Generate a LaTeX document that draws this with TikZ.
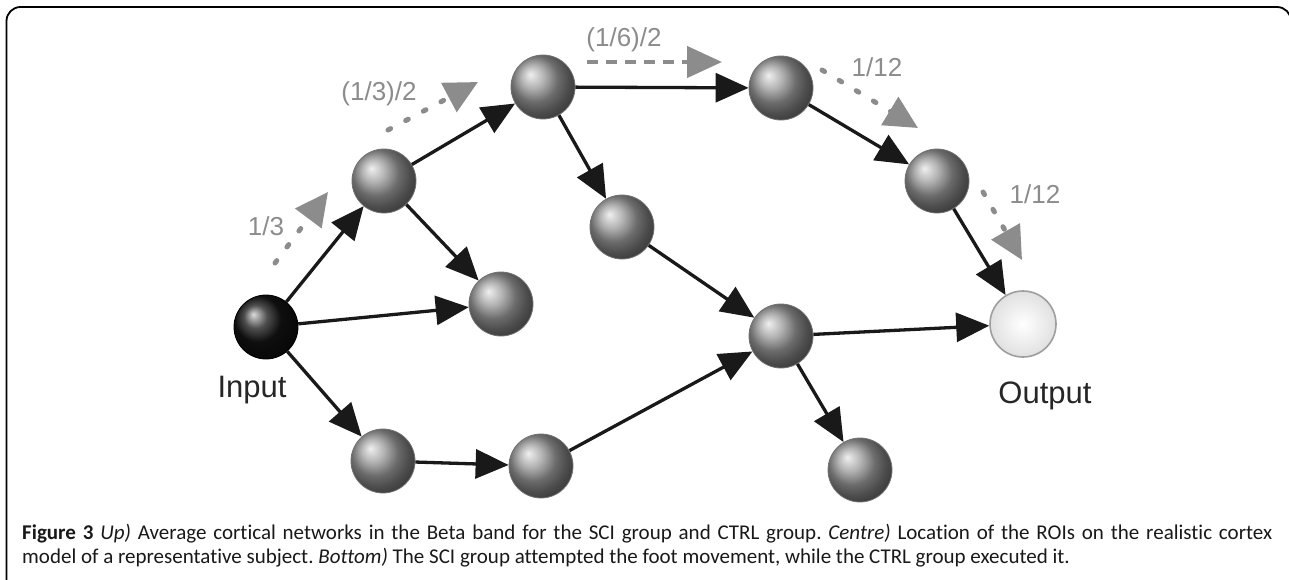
\documentclass[tikz,border=0pt]{standalone}
\usepackage{fontspec}
\setmainfont{Carlito}[Ligatures=NoCommon]
\newfontfamily\labelfont{Liberation Sans}
\usetikzlibrary{arrows.meta}
\frenchspacing
\begin{document}
\begin{tikzpicture}[x=1pt,y=-1pt,
  ballnode/.style={circle, minimum size=64pt, inner sep=0pt, draw=black!55, line width=0.8pt, shading=ball, ball color=black!40},
  inputnode/.style={ballnode, ball color=black!92, draw=black},
  outputnode/.style={circle, minimum size=66pt, inner sep=0pt, draw=black!38, line width=1.6pt, inner color=white, outer color=black!12},
  flow/.style={line width=3.3pt, draw=black!90, -{Triangle[length=33pt,width=29pt,fill=black!90]}},
  share/.style={line width=5pt, draw=black!45, line cap=round, dash pattern=on 3pt off 17pt, -{Triangle[length=33pt,width=32pt,fill=black!45,line cap=butt]}},
  sharedash/.style={line width=4.5pt, draw=black!45, dash pattern=on 11pt off 8pt, -{Triangle[length=35pt,width=31pt,fill=black!45]}},
  sharelabel/.style={text=black!45, font=\labelfont\fontsize{26}{26}\selectfont, inner sep=0pt},
  namelabel/.style={text=black!85, font=\labelfont\fontsize{31}{31}\selectfont, inner sep=0pt},
  captext/.style={anchor=base west, inner sep=0pt, text=black!90, font=\fontsize{21}{24}\selectfont}]
\useasboundingbox (0,0) rectangle (1289,579);
\fill[white] (0,0) rectangle (1289,579);
% frame
\draw[line width=1.8pt, rounded corners=14pt] (1291,620) -- (1291,7) -- (6.5,7) -- (6.5,620);
% nodes
\node[inputnode] (in) at (266,327) {};
\node[ballnode] (a) at (384,181) {};
\node[ballnode] (b) at (501,304) {};
\node[ballnode] (c) at (543,87) {};
\node[ballnode] (d) at (622,227) {};
\node[ballnode] (e) at (781,88) {};
\node[ballnode] (f) at (937,181) {};
\node[ballnode] (g) at (781,336) {};
\node[ballnode] (h) at (860,470) {};
\node[ballnode] (i) at (383,461) {};
\node[ballnode] (j) at (541,466) {};
\node[outputnode] (out) at (1023,324) {};
% flows
\draw[flow] (in) -- (a);
\draw[flow] (in) -- (b);
\draw[flow] (in) -- (i);
\draw[flow] (a) -- (b);
\draw[flow] (a) -- (c);
\draw[flow] (c) -- (e);
\draw[flow] (c) -- (d);
\draw[flow] (d) -- (g);
\draw[flow] (e) -- (f);
\draw[flow] (f) -- (out);
\draw[flow] (g) -- (out);
\draw[flow] (g) -- (h);
\draw[flow] (i) -- (j);
\draw[flow] (j) -- (g);
% share arrows
\coordinate (s1a) at (275,263); \coordinate (s1b) at (328,192);
\coordinate (s2a) at (388,130); \coordinate (s2b) at (478,82);
\coordinate (s3a) at (587,62);  \coordinate (s3b) at (722,62);
\coordinate (s4a) at (822,70);  \coordinate (s4b) at (918,128);
\coordinate (s5a) at (983,192); \coordinate (s5b) at (1022,260);
\draw[share] (s1a) -- (s1b);
\draw[share] (s2a) -- (s2b);
\draw[sharedash] (s3a) -- (s3b);
\draw[share] (s4a) -- (s4b);
\draw[share] (s5a) -- (s5b);
% labels
\node[sharelabel] (l1) at (266,226) {1/3};
\node[sharelabel] (l2) at (379,94) {(1/3)/2};
\node[sharelabel] (l3) at (624,40) {(1/6)/2};
\node[sharelabel] (l4) at (877,67) {1/12};
\node[sharelabel] (l5) at (1035,194) {1/12};
\node[namelabel, anchor=base] (inl) at (252,397) {Input};
\node[namelabel, anchor=base] (outl) at (1045,403) {Output};
% caption
\node[captext] (cap1) at (22,539) {\makebox[1250pt][s]{\textbf{Figure 3} \textit{Up)} Average cortical networks in the Beta band for the SCI group and CTRL group. \textit{Centre)} Location of the ROIs on the realistic cortex}};
\node[captext] (cap2) at (22,563) {model of a representative subject. \textit{Bottom)} The SCI group attempted the foot movement, while the CTRL group executed it.};
\end{tikzpicture}
\end{document}
